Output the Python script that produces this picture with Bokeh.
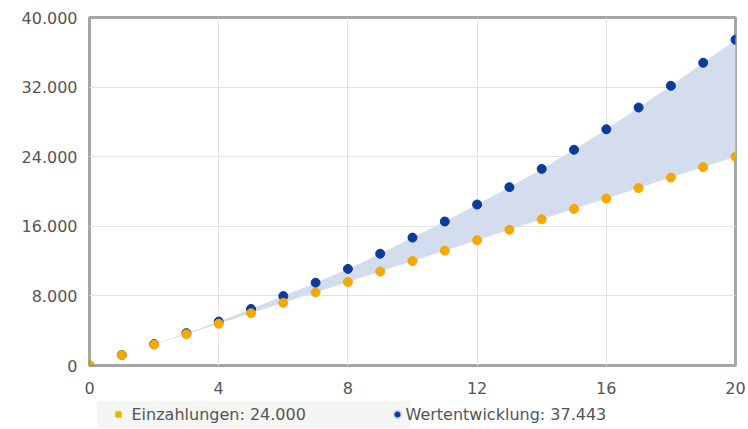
from bokeh.plotting import figure
from bokeh.models import ColumnDataSource, FixedTicker, Range1d, BoxAnnotation
from bokeh.layouts import column
from bokeh.core.properties import value
from bokeh.embed import file_html
from bokeh.resources import INLINE

years = list(range(0, 21))
einzahlungen = [0, 1200, 2400, 3600, 4800, 6000, 7200, 8400, 9600, 10800, 12000,
                13200, 14400, 15600, 16800, 18000, 19200, 20400, 21600, 22800, 24000]
wertentwicklung = [0, 1220, 2460, 3720, 5050, 6500, 7980, 9520, 11100, 12850, 14700,
                   16550, 18500, 20500, 22600, 24800, 27150, 29650, 32150, 34800, 37443]
x_ticks = [0, 4, 8, 12, 16, 20]
y_ticks = [0, 8000, 16000, 24000, 32000, 40000]
y_labels = ["0", "8.000", "16.000", "24.000", "32.000", "40.000"]
legend_labels = ["Einzahlungen: 24.000", "Wertentwicklung: 37.443"]

ORANGE = "#f5a800"
BLUE = "#0a3a9c"
FONT = "DejaVu Sans"

src = ColumnDataSource(dict(x=years, e=einzahlungen, w=wertentwicklung))

p = figure(frame_width=646, frame_height=348, output_backend="svg", toolbar_location=None,
           x_range=Range1d(0, 20), y_range=Range1d(0, 40000),
           min_border_left=89, min_border_right=12, min_border_top=17, min_border_bottom=35)

p.background_fill_color = "white"
p.border_fill_color = "white"
p.outline_line_color = "#a6a6a6"
p.outline_line_width = 3

for ax in (p.xaxis, p.yaxis):
    ax.axis_line_color = None
    ax.major_tick_line_color = None
    ax.minor_tick_line_color = None
    ax.major_label_text_font = FONT
    ax.major_label_text_font_size = "16px"
    ax.major_label_text_color = "#555555"

p.xaxis.ticker = FixedTicker(ticks=x_ticks)
p.yaxis.ticker = FixedTicker(ticks=y_ticks)
p.yaxis.major_label_overrides = {t: l for t, l in zip(y_ticks, y_labels)}
p.xaxis.major_label_standoff = 10
p.yaxis.major_label_standoff = 6

p.xgrid.grid_line_color = "#e3e3e3"
p.ygrid.grid_line_color = "#e3e3e3"

p.varea(x="x", y1="e", y2="w", source=src, fill_color="#d3ddee", fill_alpha=1.0)
p.scatter(x="x", y="w", source=src, size=9, fill_color=BLUE, line_color=BLUE)
p.scatter(x="x", y="e", source=src, size=9, fill_color=ORANGE, line_color=ORANGE)

# legend strip (separate small figure beneath, frames aligned with the chart)
leg = figure(frame_width=646, frame_height=28, output_backend="svg", toolbar_location=None,
             x_range=Range1d(0, 646), y_range=Range1d(0, 28),
             min_border_left=89, min_border_right=12, min_border_top=0, min_border_bottom=0)
leg.axis.visible = False
leg.grid.visible = False
leg.outline_line_color = None
leg.background_fill_color = "white"
leg.border_fill_color = "white"
leg.add_layout(BoxAnnotation(left=8, right=321, fill_color="#f3f6f3", fill_alpha=1.0,
                             line_color=None, level="underlay"))

leg_src = ColumnDataSource(dict(mx=[29, 308], tx=[42, 316], y=[14, 14],
                                label=legend_labels, color=["#e2b400", BLUE],
                                glow=["#f3e6a0", "#b8c4e4"], marker=["square", "circle"]))
leg.scatter(x="mx", y="y", source=leg_src, size=9, marker="circle", fill_color="glow",
            line_color=None, fill_alpha=0.8)
leg.scatter(x="mx", y="y", source=leg_src, size=5, marker="marker", fill_color="color",
            line_color="color")
leg.text(x="tx", y="y", text="label", source=leg_src, text_font=value(FONT),
         text_font_size="16px", text_color="#555555", text_baseline="middle",
         text_align="left")

layout = column(p, leg, spacing=0)
open("out.html", "w").write(file_html(layout, INLINE))
